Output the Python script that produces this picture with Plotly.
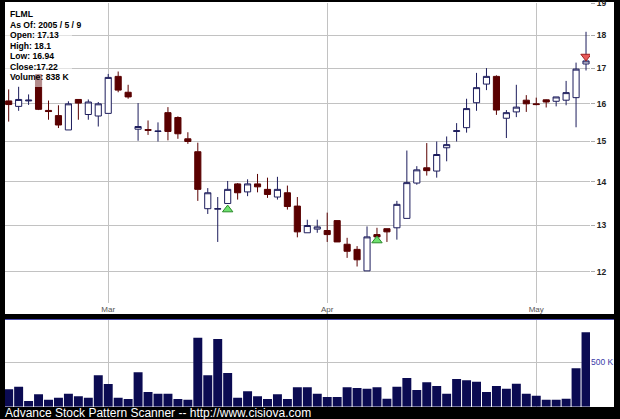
import plotly.graph_objects as go

# ---------------- data ----------------
dates = [
    "2005-02-14", "2005-02-15", "2005-02-16", "2005-02-17", "2005-02-18",
    "2005-02-22", "2005-02-23", "2005-02-24", "2005-02-25", "2005-02-28",
    "2005-03-01", "2005-03-02", "2005-03-03", "2005-03-04",
    "2005-03-07", "2005-03-08", "2005-03-09", "2005-03-10", "2005-03-11",
    "2005-03-14", "2005-03-15", "2005-03-16", "2005-03-17", "2005-03-18",
    "2005-03-21", "2005-03-22", "2005-03-23", "2005-03-24",
    "2005-03-28", "2005-03-29", "2005-03-30", "2005-03-31",
    "2005-04-01",
    "2005-04-04", "2005-04-05", "2005-04-06", "2005-04-07", "2005-04-08",
    "2005-04-11", "2005-04-12", "2005-04-13", "2005-04-14", "2005-04-15",
    "2005-04-18", "2005-04-19", "2005-04-20", "2005-04-21", "2005-04-22",
    "2005-04-25", "2005-04-26", "2005-04-27", "2005-04-28", "2005-04-29",
    "2005-05-02", "2005-05-03", "2005-05-04", "2005-05-05", "2005-05-06",
    "2005-05-09",
]
open_ = [16.08, 15.93, 16.08, 16.82, 15.82, 15.68, 15.30, 16.12, 15.71, 15.67,
         15.74, 16.77, 16.32, 15.32, 15.31, 15.26, 15.76, 15.63, 15.07, 14.74,
         13.37, 13.36, 13.49, 13.95, 13.76, 13.95, 13.82, 13.64, 13.74, 13.43,
         12.83, 12.91, 12.88, 13.10, 12.58, 12.47, 12.02, 12.79, 12.92, 12.94,
         13.15, 13.97, 14.34, 14.26, 14.84, 15.26, 15.36, 16.03, 16.55, 16.77,
         15.61, 15.78, 16.10, 16.00, 16.11, 16.07, 16.10, 16.17, 17.13]
high = [16.40, 16.48, 16.26, 16.84, 16.09, 15.96, 16.07, 16.12, 16.12, 16.05,
        16.84, 16.91, 16.53, 16.02, 15.55, 15.50, 15.91, 15.66, 15.24, 14.97,
        13.85, 13.64, 14.02, 13.97, 14.06, 14.19, 14.10, 14.12, 13.91, 13.64,
        13.12, 13.12, 13.28, 13.10, 12.72, 12.54, 12.97, 12.94, 12.92, 13.55,
        14.77, 14.38, 14.96, 15.00, 15.13, 15.48, 16.14, 16.87, 17.01, 16.80,
        15.83, 16.53, 16.24, 16.17, 16.12, 16.19, 16.64, 17.17, 18.10]
low = [15.52, 15.81, 15.97, 15.83, 15.57, 15.35, 15.30, 15.57, 15.57, 15.39,
       15.74, 16.32, 16.14, 15.02, 15.17, 15.00, 15.03, 15.07, 14.94, 13.55,
       13.25, 12.63, 13.49, 13.58, 13.66, 13.75, 13.62, 13.58, 13.35, 12.73,
       12.83, 12.83, 12.63, 12.63, 12.29, 12.11, 12.02, 12.65, 12.63, 12.68,
       13.15, 13.93, 14.15, 14.10, 14.50, 15.00, 15.23, 15.81, 16.38, 15.70,
       15.09, 15.64, 15.78, 15.96, 15.90, 15.93, 15.96, 15.37, 16.94]
close = [15.98, 16.12, 16.10, 15.85, 15.79, 15.43, 16.00, 16.02, 16.05, 16.00,
         16.74, 16.38, 16.19, 15.39, 15.29, 15.27, 15.26, 15.20, 15.00, 13.82,
         13.74, 13.37, 13.82, 13.74, 13.95, 13.88, 13.70, 13.82, 13.42, 12.85,
         12.99, 12.96, 12.79, 12.63, 12.43, 12.25, 12.74, 12.74, 12.85, 13.47,
         13.98, 14.29, 14.27, 14.67, 14.92, 15.28, 15.87, 16.45, 16.77, 15.83,
         15.76, 15.91, 16.00, 15.98, 16.05, 16.19, 16.31, 16.98, 17.22]
volume_k = [196, 225, 64, 140, 79, 101, 146, 117, 101, 354,
            256, 101, 87, 387, 165, 146, 146, 87, 79, 777,
            354, 762, 379, 101, 173, 117, 87, 140, 87, 218,
            218, 146, 109, 109, 218, 210, 203, 218, 90, 225,
            323, 188, 274, 233, 146, 312, 297, 282, 165, 233,
            203, 259, 146, 124, 79, 79, 90, 432, 838]

buy_dates = ["2005-03-17", "2005-04-08"]
buy_prices = [13.35, 12.66]
sell_dates = ["2005-05-09"]
sell_prices = [17.35]

month_tick_dates = ["2005-03-01", "2005-04-01", "2005-05-02"]
month_tick_labels = ["Mar", "Apr", "May"]
price_ticks = [12, 13, 14, 15, 16, 17, 18, 19]
volume_ticks = [500000]
volume_tick_labels = ["500 K"]

info_lines = ["FLML", "As Of: 2005 / 5 / 9", "Open: 17.13", "High: 18.1",
              "Low: 16.94", "Close:17.22", "Volume: 838 K"]
footer = "Advance Stock Pattern Scanner -- http://www.cisiova.com"

# ---------------- layout helpers ----------------
W, H = 620, 419


def px_x(x):
    return x / W


def px_y(y):
    return 1 - y / H


NAVY = "#1c1c5c"
MAROON = "#5a0000"
GRID = "#c2c2c2"

fig = go.Figure()

fig.add_trace(go.Candlestick(
    x=dates, open=open_, high=high, low=low, close=close,
    xaxis="x", yaxis="y",
    increasing=dict(line=dict(color=NAVY, width=1), fillcolor="white"),
    decreasing=dict(line=dict(color=MAROON, width=1), fillcolor=MAROON),
    whiskerwidth=0, showlegend=False, hoverinfo="skip",
))

fig.add_trace(go.Scatter(
    x=buy_dates, y=buy_prices, mode="markers", xaxis="x", yaxis="y",
    marker=dict(symbol="triangle-up", size=9, color="#6ee06e",
                line=dict(color="#2a8a2a", width=1)),
    showlegend=False, hoverinfo="skip",
))
fig.add_trace(go.Scatter(
    x=sell_dates, y=sell_prices, mode="markers", xaxis="x", yaxis="y",
    marker=dict(symbol="triangle-down", size=9, color="#e85a5a",
                line=dict(color="#a02020", width=1)),
    showlegend=False, hoverinfo="skip",
))

fig.add_trace(go.Bar(
    x=dates, y=[v * 1000 for v in volume_k], xaxis="x2", yaxis="y2",
    marker=dict(color="#0b0b52", line=dict(width=0)),
    showlegend=False, hoverinfo="skip",
))

x_left, x_right = 5, 590
xrange_ = [-0.37, len(dates) - 1 + 0.4]

common_x = dict(
    type="category", range=xrange_, showgrid=True, gridcolor=GRID,
    gridwidth=1, tickvals=month_tick_dates, ticktext=month_tick_labels,
    zeroline=False, showline=False, ticks="", fixedrange=True,
    automargin=False,
)

fig.update_layout(
    width=W, height=H,
    margin=dict(l=0, r=0, t=0, b=0, autoexpand=False),
    paper_bgcolor="black", plot_bgcolor="white",
    boxgap=0.12,
    showlegend=False,
    xaxis=dict(**common_x, domain=[px_x(x_left), px_x(x_right)], anchor="y",
               rangeslider=dict(visible=False),
               tickfont=dict(family="Liberation Sans", size=8, color="#555")),
    yaxis=dict(type="log", range=[1.0560, 1.2791],
               domain=[px_y(303), px_y(3)], anchor="x", side="right",
               tickvals=price_ticks, ticktext=[str(t) for t in price_ticks],
               showgrid=True, gridcolor=GRID, gridwidth=1,
               ticks="outside", ticklen=4, tickcolor="#aaaaaa",
               ticklabeloverflow="allow", automargin=False,
               tickfont=dict(family="Liberation Sans", size=8.5, color="#222",
                             weight="bold"),
               zeroline=False, showline=False, fixedrange=True),
    xaxis2=dict(**common_x, domain=[px_x(x_left), px_x(x_right)], anchor="y2",
                showticklabels=False),
    yaxis2=dict(range=[0, 976000], domain=[px_y(406.7), px_y(320)],
                anchor="x2", side="right", automargin=False,
                tickvals=volume_ticks, ticktext=volume_tick_labels,
                showgrid=True, gridcolor=GRID, gridwidth=1, ticks="",
                tickfont=dict(family="Liberation Sans", size=8.5,
                              color="#3a3aa8"),
                zeroline=False, showline=False, fixedrange=True),
    bargap=0.1,
)

shapes = [
    dict(type="rect", xref="paper", yref="paper",
         x0=px_x(5), x1=px_x(614), y0=px_y(314), y1=px_y(2),
         fillcolor="white", line=dict(width=0), layer="below"),
    dict(type="rect", xref="paper", yref="paper",
         x0=px_x(5), x1=px_x(614), y0=px_y(407), y1=px_y(319),
         fillcolor="white", line=dict(width=0), layer="below"),
    dict(type="line", xref="paper", yref="paper",
         x0=px_x(5), x1=px_x(614), y0=px_y(319.5), y1=px_y(319.5),
         line=dict(color="#4a4ab0", width=1.2), layer="above"),
    dict(type="rect", xref="paper", yref="paper",
         x0=px_x(5), x1=px_x(72), y0=px_y(87), y1=px_y(3),
         fillcolor="rgba(255,255,255,0.55)", line=dict(width=0),
         layer="above"),
]
fig.update_layout(shapes=shapes)

annotations = []
line_gap = 10.47
for k, txt in enumerate(info_lines):
    annotations.append(dict(
        text=txt, xref="paper", yref="paper",
        x=px_x(8), y=px_y(14.2 + line_gap * k),
        xanchor="left", yanchor="middle", showarrow=False,
        font=dict(family="Liberation Sans", size=8.6, color="black",
                  weight="bold"),
    ))
annotations.append(dict(
    text=footer, xref="paper", yref="paper",
    x=px_x(3), y=px_y(413), xanchor="left", yanchor="middle",
    showarrow=False,
    font=dict(family="Liberation Sans", size=12, color="white"),
))
fig.update_layout(annotations=annotations)

fig.write_html(
    "out.html",
    config={"displayModeBar": False, "staticPlot": True},
    post_script="document.body.style.margin='0';"
                "document.body.style.background='black';"
                "document.body.style.overflow='hidden';",
)
